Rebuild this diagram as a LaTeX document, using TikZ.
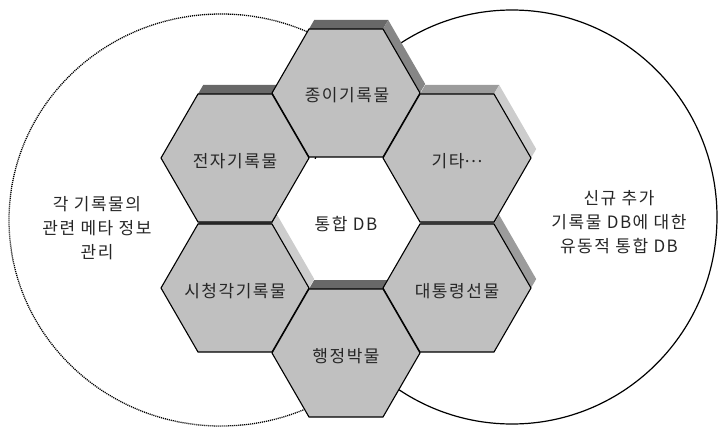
\documentclass[tikz,border=0pt]{standalone}
\usepackage{fontspec}
\newfontfamily\krfont[LetterSpace=9]{Noto Sans CJK KR}
\begin{document}
\begin{tikzpicture}[x=1pt,y=-1pt,
    cell/.style={fill=cellgray,draw=black,line width=1.1pt},
    label/.style={font=\krfont\fontsize{17}{24}\selectfont,text=black!85,align=center,inner sep=0pt}]
    \definecolor{cellgray}{HTML}{C0C0C0}
    \definecolor{shadeA}{HTML}{686868}
    \definecolor{shadeB}{HTML}{868686}
    \definecolor{shadeC}{HTML}{9C9C9C}
    \definecolor{shadeD}{HTML}{CDCDCD}
    \useasboundingbox (0,0) rectangle (718,428);
    % the two circles
    \draw[line width=1.3pt,dash pattern=on 1.1pt off 0.9pt] (221,220) ellipse (212 and 206);
    \draw[line width=1.2pt] (512,217) ellipse (205 and 207);
    % the hole in the middle
    \fill[white] (346,223) ++(74,0) -- ++(-37,64) -- ++(-74,0) -- ++(-37,-64) -- ++(37,-64) -- ++(74,0) -- cycle;
    % raised edges
    \foreach \cx/\cy/\ctop/\cright in {346/93/shadeA/shadeB, 235/158/shadeA/shadeA,
        457/158/shadeC/shadeD, 235/288/shadeA/shadeD, 457/288/shadeC/shadeC, 346/353/shadeA/shadeA}{
      \fill[\ctop] (\cx-37,\cy-64) -- ++(74,0) -- ++(5.2,-9) -- ++(-74,0) -- cycle;
      \fill[\cright] (\cx+37,\cy-64) -- ++(37,64) -- ++(5.2,-9) -- ++(-37,-64) -- cycle;
    }
    % cells
    \foreach \cx/\cy in {346/93, 235/158, 457/158, 235/288, 457/288, 346/353}{
      \draw[cell] (\cx,\cy) ++(74,0) -- ++(-37,64) -- ++(-74,0) -- ++(-37,-64) -- ++(37,-64) -- ++(74,0) -- cycle;
    }
    \node[label] (paper) at (347,95) {종이기록물};
    \node[label] (digital) at (235,161) {전자기록물};
    \node[label] (other) at (457,161) {기타\raisebox{5pt}{…}};
    \node[label] (center) at (346,224) {통합 DB};
    \node[label] (av) at (235,291) {시청각기록물};
    \node[label] (gift) at (457,291) {대통령선물};
    \node[label] (admin) at (346,356) {행정박물};
    \node[label] (meta) at (97,228) {각 기록물의\\관련 메타 정보\\관리};
    \node[label] (merge) at (619,222) {신규 추가\\기록물 DB에 대한\\유동적 통합 DB};
\end{tikzpicture}
\end{document}
